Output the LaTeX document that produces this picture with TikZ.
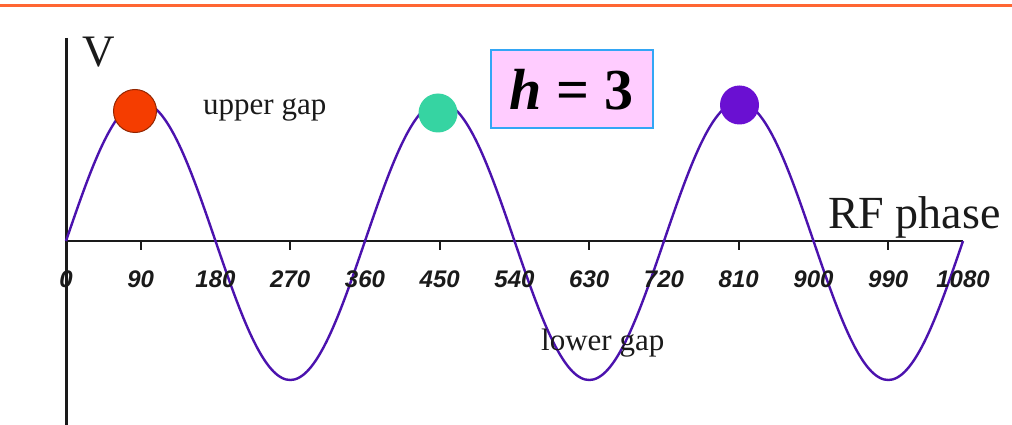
\documentclass[tikz,border=0pt]{standalone}
\usepackage{fontspec}
\setmainfont{Liberation Serif}
\newfontfamily\ticksfont{Liberation Sans}
\definecolor{topline}{HTML}{FF6633}
\definecolor{curvecol}{HTML}{4B12AE}
\definecolor{reddot}{HTML}{F53D00}
\definecolor{tealdot}{HTML}{36D4A2}
\definecolor{purpdot}{HTML}{6A10D2}
\definecolor{boxfill}{HTML}{FFCCFF}
\definecolor{boxline}{HTML}{33A6F5}
\definecolor{inkcol}{HTML}{1A1A1A}
\tikzset{
  axisline/.style={draw=inkcol, line width=2pt},
  wave/.style={draw=curvecol, line width=2.4pt, line join=round},
  dotnode/.style={circle, inner sep=0pt, minimum size=#1},
  ticklabel/.style={text=inkcol, font=\ticksfont\bfseries\itshape\fontsize{24}{28}\selectfont, inner sep=0pt},
  gaplabel/.style={text=inkcol, font=\fontsize{31}{36}\selectfont, inner sep=0pt, anchor=base west},
}
\begin{document}
\begin{tikzpicture}[x=1pt,y=-1pt]
\useasboundingbox[fill=white] (0,0) rectangle (1012,425);
% top orange rule
\coordinate (tl) at (0,5.5);
\coordinate (tr) at (1012,5.5);
\draw[topline, line width=3pt] (tl) -- (tr);
% axes
\coordinate (ytop) at (66,38);
\coordinate (ybot) at (66,425);
\coordinate (O) at (66,241);
\coordinate (xend) at (963,241);
\draw[axisline, line width=3pt] (ytop) -- (ybot);
\draw[axisline] (O) -- (xend);
% ticks at odd multiples of 90
\foreach \k in {1,3,5,7,9,11} {
  \coordinate (tk\k) at ({66+\k*74.75},241);
  \coordinate (tkb\k) at ({66+\k*74.75},250);
  \draw[axisline, line width=1.6pt] (tk\k) -- (tkb\k);
}
% curve
\draw[wave] plot[domain=0:1080, samples=217, smooth] ({66+\x*0.830556},{241-139*sin(\x)});
% tick labels
\foreach \k in {0,...,12} {
  \pgfmathtruncatemacro{\val}{90*\k}
  \node[ticklabel] (lab\k) at ({66+\k*74.75},279) {\val};
}
% dots
\node[dotnode=43pt, fill=reddot, draw=reddot!60!black, line width=1pt] (d1) at (135,111) {};
\node[dotnode=39pt, fill=tealdot] (d2) at (438,113) {};
\node[dotnode=39pt, fill=purpdot] (d3) at (739.5,105) {};
% texts
\node[text=inkcol, font=\fontsize{45}{50}\selectfont, inner sep=0pt, anchor=base west] (V) at (82,67) {V};
\node[gaplabel] (upper) at (203,115) {upper gap};
\node[gaplabel] (lower) at (541,350) {lower gap};
\node[text=inkcol, font=\fontsize{46}{52}\selectfont, inner sep=0pt, anchor=base west] (rf) at (828,228) {RF phase};
% h = 3 box
\node[draw=boxline, fill=boxfill, line width=2pt, minimum width=162pt, minimum height=78pt, inner sep=0pt,
      font=\fontsize{58}{64}\selectfont\bfseries] (hbox) at (571.5,89.5) {\itshape h\upshape\ = 3};
\end{tikzpicture}
\end{document}
